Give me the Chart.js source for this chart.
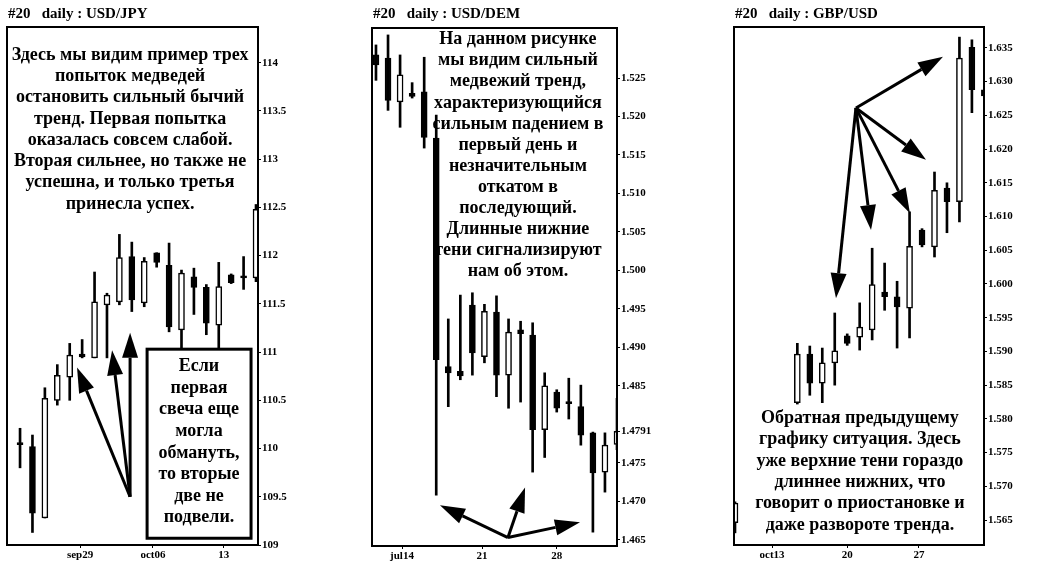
<!DOCTYPE html>
<html>
<head>
<meta charset="utf-8">
<script src="https://cdn.jsdelivr.net/npm/chart.js@4/dist/chart.umd.min.js"></script>
<style>
  html, body { margin: 0; padding: 0; background: #fff; width: 1039px; height: 564px; overflow: hidden; }
  canvas { position: absolute; top: 0; }
</style>
</head>
<body>
<canvas id="jpy" width="300" height="564" style="left:0"></canvas>
<canvas id="dem" width="310" height="564" style="left:360px"></canvas>
<canvas id="gbp" width="319" height="564" style="left:720px"></canvas>
<script>
const SERIF = "'Liberation Serif', 'Times New Roman', serif";

// ---- USD/JPY ----
const jpyOpen  = [110.06, 110.02, 109.28, 110.50, 110.74, 110.98, 110.94, 111.49, 111.52, 111.99, 111.51, 112.03, 111.90, 111.23, 111.78, 111.67, 111.28, 111.80, 111.79, 111.77];
const jpyHigh  = [110.21, 110.14, 110.63, 110.87, 111.09, 111.13, 111.83, 111.61, 112.22, 112.14, 111.98, 112.03, 112.13, 111.85, 111.87, 111.70, 111.93, 111.81, 111.99, 112.53];
const jpyLow   = [109.80, 109.13, 109.28, 110.45, 110.50, 110.94, 110.94, 110.94, 111.49, 111.42, 111.47, 111.88, 111.21, 111.03, 111.39, 111.18, 111.02, 111.71, 111.65, 111.73];
const jpyClose = [110.04, 109.33, 110.52, 110.76, 110.97, 110.95, 111.52, 111.59, 111.98, 111.54, 111.94, 111.93, 111.26, 111.82, 111.67, 111.30, 111.68, 111.72, 111.77, 112.48];
const jpyDateTicks  = [4.83, 10.7, 16.4];
const jpyDateLabels = ["sep29", "oct06", "13"];
const jpyPriceTicks = [109, 109.5, 110, 110.5, 111, 111.5, 112, 112.5, 113, 113.5, 114];

// ---- USD/DEM ----
const demOpen  = [1.5280, 1.5276, 1.5219, 1.5230, 1.5232, 1.5172, 1.4875, 1.4869, 1.4955, 1.4888, 1.4946, 1.4864, 1.4923, 1.4916, 1.4793, 1.4842, 1.4829, 1.4823, 1.4789, 1.4738, 1.4774];
const demHigh  = [1.5293, 1.5306, 1.5280, 1.5244, 1.5277, 1.5202, 1.4937, 1.4968, 1.4971, 1.4956, 1.4967, 1.4937, 1.4934, 1.4932, 1.4867, 1.4845, 1.4860, 1.4851, 1.4790, 1.4789, 1.4834];
const demLow   = [1.5247, 1.5208, 1.5186, 1.5224, 1.5159, 1.4708, 1.4823, 1.4858, 1.4864, 1.4880, 1.4836, 1.4821, 1.4829, 1.4738, 1.4757, 1.4816, 1.4807, 1.4773, 1.4660, 1.4712, 1.4767];
const demClose = [1.5267, 1.5221, 1.5254, 1.5226, 1.5173, 1.4884, 1.4867, 1.4863, 1.4893, 1.4947, 1.4864, 1.4920, 1.4918, 1.4793, 1.4850, 1.4821, 1.4827, 1.4786, 1.4737, 1.4773, 1.4791];
const demDateTicks  = [2.16, 8.8, 15.0];
const demDateLabels = ["jul14", "21", "28"];
const demPriceTicks = [1.465, 1.470, 1.475, 1.4791, 1.485, 1.490, 1.495, 1.500, 1.505, 1.510, 1.515, 1.520, 1.525];

// ---- GBP/USD ----
const gbpOpen  = [1.5646, null, null, null, null, 1.5824, 1.5896, 1.5853, 1.5883, 1.5923, 1.5921, 1.5932, 1.5988, 1.5981, 1.5964, 1.6080, 1.6055, 1.6142, 1.6122, 1.6351, 1.6288];
const gbpHigh  = [1.5677, null, null, null, null, 1.5912, 1.5908, 1.5905, 1.5957, 1.5926, 1.5972, 1.6053, 1.6031, 1.6004, 1.6107, 1.6082, 1.6166, 1.6150, 1.6366, 1.6362, 1.6290];
const gbpLow   = [1.5631, null, null, null, null, 1.5822, 1.5835, 1.5824, 1.5850, 1.5909, 1.5902, 1.5917, 1.5961, 1.5905, 1.5920, 1.6055, 1.6040, 1.6076, 1.6092, 1.6254, 1.6277];
const gbpClose = [1.5675, null, null, null, null, 1.5896, 1.5853, 1.5883, 1.5901, 1.5912, 1.5936, 1.5999, 1.5981, 1.5966, 1.6056, 1.6058, 1.6139, 1.6122, 1.6335, 1.6288, 1.6279];
const gbpDateTicks  = [2.97, 9.0, 14.75];
const gbpDateLabels = ["oct13", "20", "27"];
const gbpPriceTicks = [1.565, 1.570, 1.575, 1.580, 1.585, 1.590, 1.595, 1.600, 1.605, 1.610, 1.615, 1.620, 1.625, 1.630, 1.635];

function candleSets(open, high, low, close) {
  const wicks = [], bodies = [], fills = [];
  open.forEach((o, i) => {
    if (o == null) return;
    wicks.push({ x: i, y: [low[i], high[i]] });
    bodies.push({ x: i, y: [Math.min(o, close[i]), Math.max(o, close[i])] });
    fills.push(close[i] >= o ? "#ffffff" : "#000000");
  });
  return [
    { data: bodies, backgroundColor: fills, borderColor: "#000", borderWidth: 1.5, borderSkipped: false,
      barThickness: 6, minBarLength: 2, grouped: false, order: 1 },
    { data: wicks, backgroundColor: "#000", barThickness: 2, grouped: false, order: 2 }
  ];
}

function drawArrow(ctx, x0, y0, x1, y1) {
  const a = Math.atan2(y1 - y0, x1 - x0), len = 25, hw = 8;
  const bx = x1 - len * Math.cos(a), by = y1 - len * Math.sin(a);
  ctx.lineWidth = 3;
  ctx.beginPath(); ctx.moveTo(x0, y0); ctx.lineTo(bx, by); ctx.stroke();
  ctx.beginPath();
  ctx.moveTo(x1, y1);
  ctx.lineTo(bx + hw * Math.sin(a), by - hw * Math.cos(a));
  ctx.lineTo(bx - hw * Math.sin(a), by + hw * Math.cos(a));
  ctx.closePath(); ctx.fill();
}

// frame, title, notes and arrows, placed with the chart's own scales
const notesPlugin = {
  id: "notes",
  afterDatasetsDraw(chart, args, o) {
    const { ctx, chartArea: a, scales: { x, y } } = chart;
    ctx.save();
    ctx.strokeStyle = "#000"; ctx.fillStyle = "#000";
    ctx.lineWidth = 2;
    ctx.strokeRect(a.left, a.top, a.width, a.height);

    ctx.font = "bold 15px " + SERIF;
    ctx.textAlign = "left"; ctx.textBaseline = "middle";
    ctx.fillText(o.title, a.left + 1, 14);

    (o.boxes || []).forEach(b => {
      const l = x.getPixelForValue(b.x0), r = x.getPixelForValue(b.x1);
      const t = y.getPixelForValue(b.y0), btm = y.getPixelForValue(b.y1);
      ctx.fillStyle = "#fff"; ctx.fillRect(l, t, r - l, btm - t);
      ctx.lineWidth = 3; ctx.strokeRect(l, t, r - l, btm - t);
      ctx.fillStyle = "#000";
    });

    ctx.font = "bold 18px " + SERIF;
    ctx.textAlign = "center";
    (o.texts || []).forEach(t => {
      const cx = x.getPixelForValue(t.x), cy = y.getPixelForValue(t.y);
      t.lines.forEach((line, i) => ctx.fillText(line, cx, cy + i * t.step));
    });

    (o.arrows || []).forEach(ar => {
      drawArrow(ctx, x.getPixelForValue(ar[0]), y.getPixelForValue(ar[1]),
                x.getPixelForValue(ar[2]), y.getPixelForValue(ar[3]));
    });
    ctx.restore();
  }
};

function makeChart(id, cfg) {
  const tickFont = { family: SERIF, size: 11, weight: "bold" };
  return new Chart(document.getElementById(id), {
    type: "bar",
    data: { datasets: candleSets(cfg.open, cfg.high, cfg.low, cfg.close) },
    options: {
      responsive: false,
      animation: false,
      layout: { padding: { left: cfg.padLeft, top: cfg.padTop, right: 0, bottom: 0 } },
      plugins: { legend: { display: false }, tooltip: { enabled: false }, notes: cfg.notes },
      scales: {
        x: {
          type: "linear", position: "bottom", min: cfg.xMin, max: cfg.xMax, offset: false,
          afterBuildTicks: s => { s.ticks = cfg.dateTicks.map(v => ({ value: v })); },
          afterFit: s => { s.height = cfg.xAxisH; },
          ticks: { autoSkip: false, maxRotation: 0, color: "#000", font: tickFont, padding: 1,
                   callback: (v, i) => cfg.dateLabels[i] },
          grid: { drawOnChartArea: false, offset: false, color: "#000", tickLength: 3 },
          border: { display: false }
        },
        y: {
          type: "linear", position: "right", min: cfg.yMin, max: cfg.yMax,
          afterBuildTicks: s => { s.ticks = cfg.priceTicks.map(v => ({ value: v })); },
          afterFit: s => { s.width = cfg.yAxisW; },
          ticks: { autoSkip: false, color: "#000", font: tickFont, padding: 1, callback: cfg.fmt },
          grid: { drawOnChartArea: false, color: "#000", tickLength: 3 },
          border: { display: false }
        }
      }
    },
    plugins: [notesPlugin]
  });
}

makeChart("jpy", {
  open: jpyOpen, high: jpyHigh, low: jpyLow, close: jpyClose,
  dateTicks: jpyDateTicks, dateLabels: jpyDateLabels, priceTicks: jpyPriceTicks,
  fmt: v => String(v),
  xMin: -1.05, xMax: 19.16, yMin: 109, yMax: 114.37,
  padLeft: 7, padTop: 27, yAxisW: 42, xAxisH: 19,
  notes: {
    title: "#20   daily : USD/JPY",
    boxes: [{ x0: 10.23, x1: 18.6, y0: 111.03, y1: 109.07 }],
    texts: [
      { x: 8.86, y: 114.08, step: 21.3, lines: [
        "Здесь мы видим пример трех", "попыток медведей", "остановить сильный бычий",
        "тренд. Первая попытка", "оказалась совсем слабой.", "Вторая сильнее, но также не",
        "успешна, и только третья", "принесла успех."] },
      { x: 14.41, y: 110.85, step: 21.6, lines: [
        "Если", "первая", "свеча еще", "могла", "обмануть,", "то вторые", "две не", "подвели."] }
    ],
    arrows: [
      [8.86, 109.50, 4.59, 110.84],
      [8.86, 109.50, 7.41, 111.02],
      [8.86, 109.50, 8.86, 111.20]
    ]
  }
});

makeChart("dem", {
  open: demOpen, high: demHigh, low: demLow, close: demClose,
  dateTicks: demDateTicks, dateLabels: demDateLabels, priceTicks: demPriceTicks,
  fmt: v => (v === 1.4791 ? "1.4791" : v.toFixed(3)),
  xMin: -0.33, xMax: 20.0, yMin: 1.4642, yMax: 1.5315,
  padLeft: 12, padTop: 28, yAxisW: 53, xAxisH: 18,
  notes: {
    title: "#20   daily : USD/DEM",
    texts: [
      { x: 11.78, y: 1.5300, step: 21.1, lines: [
        "На данном рисунке", "мы видим сильный", "медвежий тренд,", "характеризующийся",
        "сильным падением в", "первый день и", "незначительным", "откатом в",
        "последующий.", "Длинные нижние", "тени сигнализируют", "нам об этом."] }
    ],
    arrows: [
      [10.95, 1.4653, 5.31, 1.4695],
      [10.95, 1.4653, 12.37, 1.4718],
      [10.95, 1.4653, 16.93, 1.4673]
    ]
  }
});

makeChart("gbp", {
  open: gbpOpen, high: gbpHigh, low: gbpLow, close: gbpClose,
  dateTicks: gbpDateTicks, dateLabels: gbpDateLabels, priceTicks: gbpPriceTicks,
  fmt: v => v.toFixed(3),
  xMin: -0.08, xMax: 19.97, yMin: 1.5613, yMax: 1.6381,
  padLeft: 14, padTop: 27, yAxisW: 55, xAxisH: 19,
  notes: {
    title: "#20   daily : GBP/USD",
    texts: [
      { x: 10.02, y: 1.5801, step: 21.4, lines: [
        "Обратная предыдущему", "графику ситуация. Здесь", "уже верхние тени гораздо",
        "длиннее нижних, что", "говорит о приостановке и", "даже развороте тренда."] }
    ],
    arrows: [
      [9.70, 1.6261, 16.68, 1.6337],
      [9.70, 1.6261, 15.32, 1.6184],
      [9.70, 1.6261, 14.03, 1.6105],
      [9.70, 1.6261, 10.91, 1.6080],
      [9.70, 1.6261, 8.10, 1.5979]
    ]
  }
});
</script>
</body>
</html>
